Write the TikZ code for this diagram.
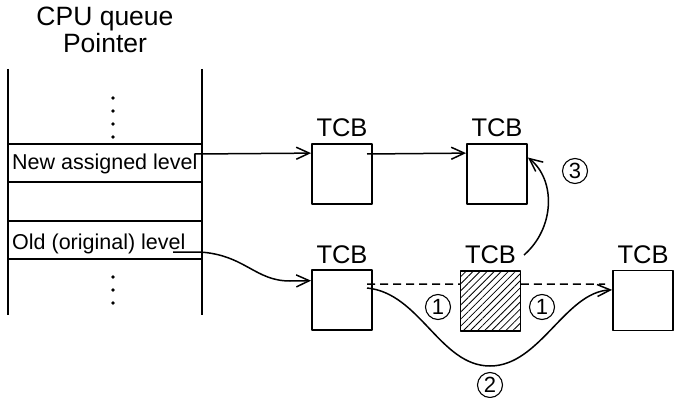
\documentclass[tikz,border=0pt]{standalone}
\usepackage{fontspec}
\setmainfont{Liberation Sans}
\usetikzlibrary{arrows.meta,patterns.meta}

\begin{document}
\begin{tikzpicture}[
            x=1pt, y=-1pt,
            line join=round,
            >={Straight Barb[length=13pt,width=12pt]},
            tcbbox/.style={draw, line width=1.9pt, minimum size=60pt, inner sep=0pt},
            tcblabel/.style={anchor=base, font=\fontsize{25.5}{28}\selectfont},
            rowtext/.style={anchor=base west, inner sep=0pt, font=\fontsize{21.5}{24}\selectfont},
            step num/.style={circle, draw, line width=1.1pt, minimum size=25pt, inner sep=0pt,
                             font=\fontsize{22}{22}\selectfont}
        ]

        \useasboundingbox (0,0) rectangle (674,398);

        % Queue pointer table
        \node[anchor=base, font=\fontsize{26.5}{28}\selectfont] (cpu) at (105,26) {CPU queue};
        \node[anchor=base, font=\fontsize{26.5}{28}\selectfont] (ptr) at (105,53) {Pointer};

        \draw[line width=1.7pt] (8,69) -- (8,315);
        \draw[line width=1.7pt] (202,69) -- (202,315);
        \foreach \y in {144,182,221,259}
            \draw[line width=1.7pt] (8,\y) -- (202,\y);

        \foreach \y in {98,111,124,137,277,290,303}
            \fill (113,\y) circle (1.9);

        \node[rowtext] (newlvl) at (12,170) {New assigned level};
        \node[rowtext] (oldlvl) at (12,249) {Old (original) level};

        % TCB blocks
        \node[tcbbox] (A) at (342,174) {};
        \node[tcbbox] (B) at (497,174) {};
        \node[tcbbox] (C) at (342,300) {};
        \node[tcbbox, pattern={Lines[angle=45,distance=5pt,line width=0.8pt]}] (D) at (490.5,301) {};
        \node[tcbbox] (E) at (643,300.5) {};

        \node[tcblabel] (tA) at (342,137) {TCB};
        \node[tcblabel] (tB) at (497,137) {TCB};
        \node[tcblabel] (tC) at (342,263) {TCB};
        \node[tcblabel] (tD) at (490.5,263) {TCB};
        \node[tcblabel] (tE) at (643,263) {TCB};

        % Start points of the links
        \coordinate (nl) at (195,154);
        \coordinate (ol) at (173,252);
        \coordinate (a1) at (367,154);
        \coordinate (c1) at (367,284);
        \coordinate (c2) at (367,288);
        \coordinate (d1) at (524,255);

        % Links
        \draw[line width=1.5pt,->] (nl) -- (A.146);
        \draw[line width=1.5pt,->] (a1) -- (B.146);
        \draw[line width=1.5pt,->]
            (ol) -- (200,252) .. controls (245,255) and (255,281) .. (290,281) -- (C.148);

        % Removal of the old block
        \draw[line width=1.5pt, dash pattern=on 8pt off 5pt] (c1) -- (D.151);
        \draw[line width=1.5pt, dash pattern=on 8pt off 5pt] (D.29) -- (605,284);
        \draw[line width=1.5pt,->]
            (c2) .. controls (420,293) and (440,366) .. (490,366)
                 .. controls (540,366) and (565,292) .. (E.161);
        \draw[line width=1.5pt,->]
            (d1) .. controls (555,228) and (556,180) .. (B.28);

        % Step numbers
        \node[step num] (s1a) at (438,307) {1};
        \node[step num] (s1b) at (542,307) {1};
        \node[step num] (s2) at (490,385) {2};
        \node[step num] (s3) at (575,171) {3};

        \end{tikzpicture}
\end{document}
